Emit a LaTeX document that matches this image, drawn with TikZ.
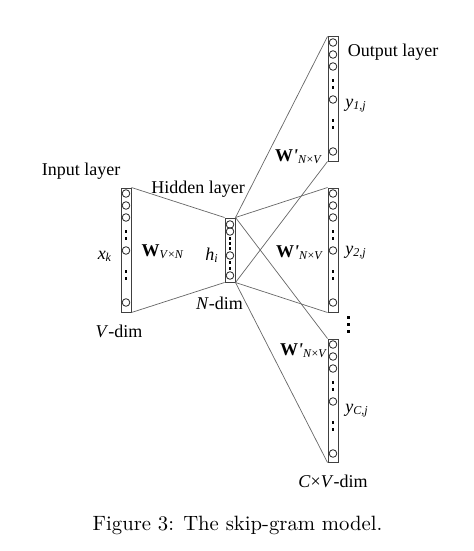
\documentclass[tikz,border=0pt]{standalone}
\usepackage{fontspec}
\newfontfamily\tms{Liberation Serif}
\usetikzlibrary{calc}
\begin{document}
\begin{tikzpicture}[x=0.5pt, y=-0.5pt,
  every node/.style = {font=\tms\fontsize{9}{10}\selectfont},
  layer/.style = {draw=black!75, line width=0.5pt,
    minimum width=5pt, inner sep=0pt},
  unit/.style  = {circle, draw=black!85, line width=0.4pt,
    minimum size=3.8pt, inner sep=0pt},
  wire/.style  = {draw=black!60, line width=0.35pt},
  lbl/.style   = {anchor=base},
  caption/.style = {anchor=base, font=\rmfamily\fontsize{10.35}{12}\selectfont}]
\useasboundingbox (0,0) rectangle (474,551);
\node[layer, minimum height=62pt] (in)   at (126,250)   {};
\node[layer, minimum height=32pt] (hid)  at (230,250)   {};
\node[layer, minimum height=62pt] (out1) at (333,99)    {};
\node[layer, minimum height=62pt] (out2) at (333,250)   {};
\node[layer, minimum height=61.5pt] (out3) at (333,400.5) {};
\foreach \b in {in,out1,out2,out3}{
  \foreach \dy in {6,18,30,63,115}
    \node[unit] (\b-u\dy) at ($(\b.north)+(0,\dy)$) {};
  \foreach \dy in {44,51,84,91}
    \fill ($(\b.north)+(-1.25,\dy-1.25)$) rectangle +(2.5,2.5);
}
\foreach \dy in {7,14,38,58}
  \node[unit] (hid-u\dy) at ($(hid.north)+(0,\dy)$) {};
\foreach \dy in {21,26,31,45,51}
  \fill ($(hid.north)+(-1.25,\dy-1.25)$) rectangle +(2.5,2.5);
\foreach \y in {317,324,331}
  \fill (346.5,\y-1.5) rectangle +(3,3);
\draw[wire] (in.north east) -- (hid.north west);
\draw[wire] (in.south east) -- (hid.south west);
\foreach \o in {out1,out2,out3}{
  \draw[wire] (hid.north east) -- (\o.north west);
  \draw[wire] (hid.south east) -- (\o.south west);
}
\node[lbl] (inlbl)  at (81,175)  {Input layer};
\node[lbl] (hidlbl) at (198,193) {Hidden layer};
\node[lbl] (outlbl) at (393,57)  {Output layer};
\node[lbl] (xk)  at (105,259) {\textit{x}\textsubscript{\textit{k}}};
\node[lbl] (wvn) at (163,256) {\textbf{W}\textsubscript{\textit{V}×\textit{N}}};
\node[lbl] (hi)  at (212,260) {\textit{h}\textsubscript{\textit{i}}};
\node[lbl] (ndim) at (219.5,309) {\textit{N}-dim};
\node[lbl] (vdim) at (119,337) {\textit{V}-dim};
\node[lbl] (w1) at (299,162) {\textbf{W}\textbf{\textit{'}}\textsubscript{\textit{N}×\textit{V}}};
\node[lbl] (w2) at (300,257) {\textbf{W}\textbf{\textit{'}}\textsubscript{\textit{N}×\textit{V}}};
\node[lbl] (w3) at (304,355) {\textbf{W}\textbf{\textit{'}}\textsubscript{\textit{N}×\textit{V}}};
\node[lbl] (y1) at (356,108) {\textit{y}\textsubscript{\textit{1,j}}};
\node[lbl] (y2) at (356,254) {\textit{y}\textsubscript{\textit{2,j}}};
\node[lbl] (yc) at (357,412) {\textit{y}\textsubscript{\textit{C,j}}};
\node[lbl] (cvdim) at (333,487) {\textit{C}×\textit{V}-dim};
\node[caption] (cap) at (237.5,530) {Figure 3: The skip-gram model.};
\end{tikzpicture}
\end{document}
